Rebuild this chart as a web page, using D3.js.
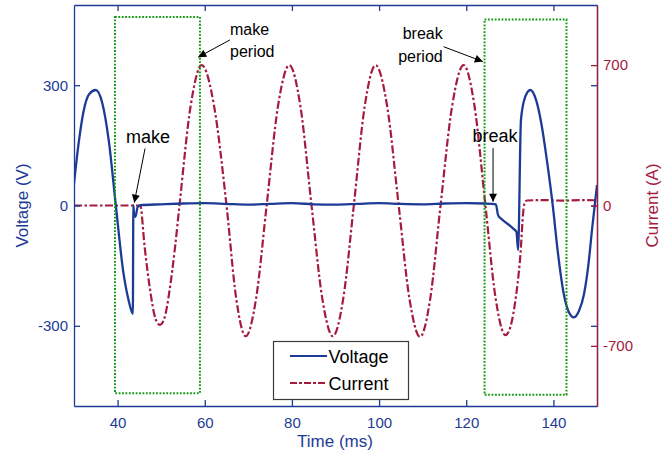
<!DOCTYPE html>
<html>
<head>
<meta charset="utf-8">
<script src="https://cdn.jsdelivr.net/npm/d3@7"></script>
<style>
body { margin: 0; background: #fff; }
svg { font-family: "Liberation Sans", Arial, sans-serif; }
</style>
</head>
<body>
<svg id="chart" width="668" height="456"></svg>
<script>
var width = 668,
    height = 456,
    plotLeft = 74, plotRight = 597, plotTop = 5, plotBottom = 406;

var blue = "#1d3b96", red = "#a51b3e", green = "#159a15";

// voltage trace (ms, V)
var voltTime = [30, 31, 32.2, 33.5, 35, 36.5, 38, 39.6, 41.3, 42.5, 43.5,
    43.62, 43.8, 44.1, 44.6, 45.3, 50, 55, 60, 65, 70, 75, 80, 85, 90, 95,
    100, 105, 110, 115, 120, 124, 126.8, 127.3, 127.9, 129, 130, 130.7, 131.5,
    131.9, 132.55, 133.5, 134.7, 136, 137.3, 138.5, 139.85, 141, 142.4, 143.5,
    144.7, 145.9, 147, 148, 148.9, 150];
var volts = [55, 150, 235, 278, 288, 255, 160, 0, -165, -235, -270,
    0, -24, -28, -4, 1, 3, 5, 6, 4, 2, 4, 6, 3, 2, 4,
    6, 4, 3, 5, 6, 5, 3, -24, -32, -42, -50, -57, -65,
    -111, 213, 270, 288, 264, 200, 113, 0, -115, -222, -265,
    -279, -262, -222, -150, -56, 51];

// current trace (ms, A)
var ampTime = [30, 45.2, 46.2, 47.45, 48.7, 49.7, 50.7, 51.95, 53.2, 54.2,
    56.75, 59.3, 62.15, 65.0, 67.2, 69.4, 71.8, 74.2, 76.8, 79.4, 81.95,
    84.5, 86.95, 89.4, 91.8, 94.2, 96.7, 99.2, 101.85, 104.5, 106.95, 109.4,
    111.75, 114.1, 116.75, 119.4, 121.9, 124.4, 126.7, 129.0, 130.2, 131.3,
    132.3, 133.3, 133.9, 138, 142, 146, 150];
var amps = [0, 0, -205, -420, -565, -595, -565, -420, -205, 0,
    495, 700, 495, 0, -461, -652, -461, 0, 495, 700, 495,
    0, -461, -652, -461, 0, 495, 700, 495, 0, -463, -655,
    -463, 0, 495, 700, 495, 0, -457, -647, -600, -470,
    -280, 5, 25, 27, 24, 27, 26];

var xTicks = [40, 60, 80, 100, 120, 140],
    voltTicks = [-300, 0, 300],
    ampTicks = [-700, 0, 700];

// make / break period boxes (ms, V)
var periodStart = [39.4, 124.2],
    periodEnd = [58.9, 143],
    periodTop = [470, 464],
    periodBottom = [-468, -472];

var xScale = d3.scaleLinear().domain([30, 150]).range([plotLeft, plotRight]);
var yVolt = d3.scaleLinear().domain([-500, 500]).range([plotBottom, plotTop]);
var yAmp = d3.scaleLinear().domain([-1000, 1000]).range([plotBottom, plotTop]);

var svg = d3.select("#chart");

svg.append("defs").append("clipPath").attr("id", "plot")
    .append("rect").attr("x", plotLeft).attr("y", plotTop)
    .attr("width", plotRight - plotLeft).attr("height", plotBottom - plotTop);

svg.select("defs").append("marker")
    .attr("id", "head")
    .attr("viewBox", "0 0 10 10")
    .attr("refX", 10).attr("refY", 5)
    .attr("markerWidth", 9).attr("markerHeight", 8)
    .attr("markerUnits", "userSpaceOnUse")
    .attr("orient", "auto")
    .append("path").attr("d", "M0,0 L10,5 L0,10 z").attr("fill", "#000");

var plot = svg.append("g").attr("clip-path", "url(#plot)");

var ampLine = d3.line()
    .x((d, i) => xScale(ampTime[i]))
    .y(d => yAmp(d))
    .curve(d3.curveMonotoneX);

var voltLine = d3.line()
    .x((d, i) => xScale(voltTime[i]))
    .y(d => yVolt(d))
    .curve(d3.curveMonotoneX);

plot.append("path").datum(amps)
    .attr("d", ampLine)
    .attr("fill", "none")
    .attr("stroke", red)
    .attr("stroke-width", 2.2)
    .attr("stroke-dasharray", "8,2.5,2.5,2.5");

plot.append("path").datum(volts)
    .attr("d", voltLine)
    .attr("fill", "none")
    .attr("stroke", blue)
    .attr("stroke-width", 2.3)
    .attr("stroke-linejoin", "round");

plot.selectAll("rect.period").data(periodStart).enter().append("rect")
    .attr("class", "period")
    .attr("x", d => xScale(d))
    .attr("y", (d, i) => yVolt(periodTop[i]))
    .attr("width", (d, i) => xScale(periodEnd[i]) - xScale(d))
    .attr("height", (d, i) => yVolt(periodBottom[i]) - yVolt(periodTop[i]))
    .attr("fill", "none")
    .attr("stroke", green)
    .attr("stroke-width", 2)
    .attr("stroke-dasharray", "1.8,1.6");

// axes
var styleAxis = (g, color) => {
    g.select(".domain").attr("stroke", color).attr("stroke-width", 1.3);
    g.selectAll(".tick line").attr("stroke", color).attr("stroke-width", 1.3);
    g.selectAll(".tick text").attr("fill", color).attr("font-size", 15)
        .attr("font-family", "Liberation Sans, Arial, sans-serif");
};

svg.append("g")
    .attr("transform", "translate(0," + plotTop + ")")
    .call(d3.axisTop(xScale).tickValues(xTicks).tickSizeInner(-6).tickSizeOuter(0).tickFormat(""))
    .call(g => styleAxis(g, blue));

svg.append("g")
    .attr("transform", "translate(0," + plotBottom + ")")
    .call(d3.axisBottom(xScale).tickValues(xTicks).tickSizeInner(-6).tickSizeOuter(0)
        .tickPadding(11).tickFormat(d => String(d)))
    .call(g => styleAxis(g, blue));

svg.append("g")
    .attr("transform", "translate(" + plotLeft + ",0)")
    .call(d3.axisLeft(yVolt).tickValues(voltTicks).tickSizeInner(-6).tickSizeOuter(0)
        .tickPadding(6).tickFormat(d => String(d)))
    .call(g => styleAxis(g, blue));

svg.append("g")
    .attr("transform", "translate(" + plotRight + ",0)")
    .call(d3.axisRight(yVolt).tickValues(voltTicks).tickSizeInner(-6).tickSizeOuter(0).tickFormat(""))
    .call(g => styleAxis(g, blue));

svg.append("g")
    .attr("transform", "translate(" + plotRight + ",0)")
    .call(d3.axisRight(yAmp).tickValues(ampTicks).tickSizeInner(-6).tickSizeOuter(0)
        .tickPadding(6).tickFormat(d => String(d)))
    .call(g => styleAxis(g, red));

// axis titles
svg.append("text")
    .attr("x", (plotLeft + plotRight) / 2 - 0.5)
    .attr("y", 447)
    .attr("text-anchor", "middle")
    .attr("font-size", 17)
    .attr("fill", blue)
    .text("Time (ms)");

svg.append("text")
    .attr("transform", "translate(28," + (plotTop + plotBottom) / 2 + ") rotate(-90)")
    .attr("text-anchor", "middle")
    .attr("font-size", 17)
    .attr("fill", blue)
    .text("Voltage (V)");

svg.append("text")
    .attr("transform", "translate(658," + (plotTop + plotBottom) / 2 + ") rotate(-90)")
    .attr("text-anchor", "middle")
    .attr("font-size", 17)
    .attr("fill", red)
    .text("Current (A)");

// annotations (ms, V)
var notes = [
    {lines: ["make"], x: 47, y: 156, anchor: "middle", size: 18, from: [46.3, 142], to: [43.83, 7]},
    {lines: ["make", "period"], x: 65.8, y: 426, anchor: "start", size: 16, from: [65.8, 413], to: [58.5, 370]},
    {lines: ["break", "period"], x: 114.6, y: 414, anchor: "end", size: 16, from: [114.8, 396], to: [123.8, 359]},
    {lines: ["break"], x: 126.6, y: 159, anchor: "middle", size: 18, from: [126.15, 143], to: [126.15, 9.5]}
];

notes.forEach(n => {
    var t = svg.append("text")
        .attr("x", xScale(n.x))
        .attr("y", yVolt(n.y))
        .attr("text-anchor", n.anchor)
        .attr("font-size", n.size)
        .attr("fill", "#000");
    n.lines.forEach((l, i) => {
        t.append("tspan").attr("x", xScale(n.x)).attr("dy", i == 0 ? 0 : 22.5).text(l);
    });
    svg.append("line")
        .attr("x1", xScale(n.from[0])).attr("y1", yVolt(n.from[1]))
        .attr("x2", xScale(n.to[0])).attr("y2", yVolt(n.to[1]))
        .attr("stroke", "#000")
        .attr("stroke-width", 1)
        .attr("marker-end", "url(#head)");
});

// legend
var legend = svg.append("g");
legend.append("rect")
    .attr("x", 273.5).attr("y", 341.5)
    .attr("width", 135).attr("height", 58)
    .attr("fill", "#fff")
    .attr("stroke", "#3a3a3a")
    .attr("stroke-width", 1.2);

var legendItems = [
    {name: "Voltage", color: blue, dash: null, y: 356},
    {name: "Current", color: red, dash: "7,2,3,2", y: 383}
];
legendItems.forEach(d => {
    legend.append("line")
        .attr("x1", 290).attr("x2", 327)
        .attr("y1", d.y).attr("y2", d.y)
        .attr("stroke", d.color)
        .attr("stroke-width", 2.2)
        .attr("stroke-dasharray", d.dash);
    legend.append("text")
        .attr("x", 328.5)
        .attr("y", d.y + 7)
        .attr("font-size", 18)
        .attr("fill", "#000")
        .text(d.name);
});
</script>
</body>
</html>
